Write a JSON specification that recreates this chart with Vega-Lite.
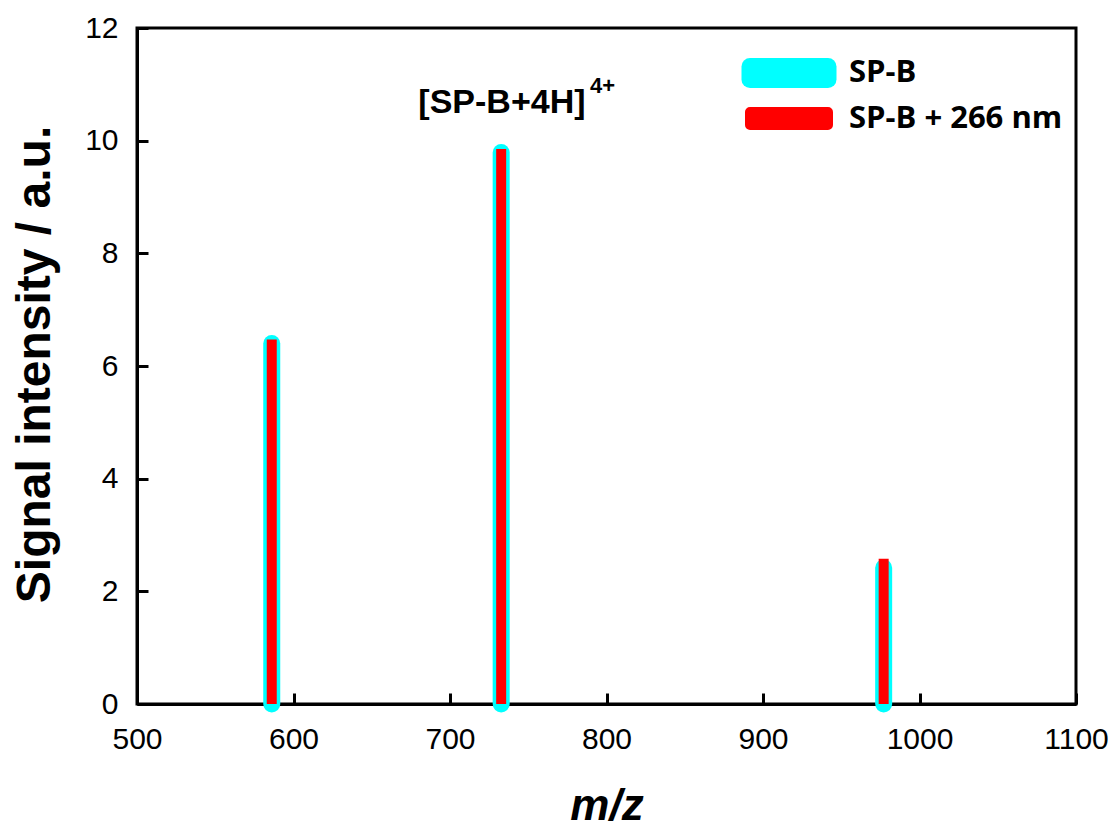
{
  "$schema": "https://vega.github.io/schema/vega-lite/v6.json",
  "width": 939,
  "height": 676,
  "autosize": {"type": "none"},
  "padding": {"left": 137, "top": 28, "right": 40, "bottom": 124},
  "background": "white",
  "config": {
    "view": {"stroke": "black", "strokeWidth": 3},
    "axis": {
      "grid": false,
      "domainColor": "black",
      "domainWidth": 3,
      "tickColor": "black",
      "tickWidth": 3,
      "tickSize": -11,
      "labelFlush": false,
      "labelFont": "Liberation Sans",
      "labelFontSize": 30,
      "labelColor": "black",
      "titleFont": "Liberation Sans",
      "titleColor": "black",
      "titleFontWeight": "bold"
    }
  },
  "datasets": {
    "peaks": [
      {"mz": 586.1, "intensity": 6.40, "series": "SP-B"},
      {"mz": 732.7, "intensity": 9.79, "series": "SP-B"},
      {"mz": 977.1, "intensity": 2.42, "series": "SP-B"},
      {"mz": 586.1, "intensity": 6.47, "series": "SP-B + 266 nm"},
      {"mz": 732.7, "intensity": 9.85, "series": "SP-B + 266 nm"},
      {"mz": 977.1, "intensity": 2.58, "series": "SP-B + 266 nm"}
    ],
    "labels": [
      {"mz": 733.2, "intensity": 10.5, "text": "[SP-B+4H]", "kind": "main"},
      {"mz": 789.5, "intensity": 10.85, "text": "4+", "kind": "sup"}
    ]
  },
  "layer": [
    {
      "data": {"name": "peaks"},
      "transform": [{"filter": "datum.series === 'SP-B'"}],
      "mark": {"type": "rule", "strokeCap": "round"},
      "encoding": {
        "x": {
          "field": "mz", "type": "quantitative",
          "scale": {"domain": [500, 1100], "nice": false, "zero": false},
          "axis": {
            "values": [500, 600, 700, 800, 900, 1000, 1100],
            "format": "d",
            "labelPadding": 31,
            "title": "m/z",
            "titleFontSize": 44,
            "titleFontStyle": "italic",
            "titleX": 469.5,
            "titleY": 115,
            "titleAlign": "center",
            "titleBaseline": "alphabetic"
          }
        },
        "y": {
          "field": "intensity", "type": "quantitative",
          "scale": {"domain": [0, 12], "nice": false},
          "axis": {
            "values": [0, 2, 4, 6, 8, 10, 12],
            "format": "d",
            "labelPadding": 30,
            "title": "Signal intensity / a.u.",
            "titleFontSize": 48,
            "titleAngle": -90,
            "titleX": -102,
            "titleY": 336,
            "titleAlign": "center",
            "titleBaseline": "middle"
          }
        },
        "y2": {"datum": 0},
        "color": {
          "field": "series", "type": "nominal",
          "scale": {"domain": ["SP-B", "SP-B + 266 nm"], "range": ["#00FFFF", "#FF0000"]},
          "legend": {
            "title": null,
            "orient": "none",
            "legendX": 624,
            "legendY": 17,
            "symbolType": "M-2,-0.33H2V0.33H-2Z",
            "symbolSize": 1521,
            "labelFont": "Open Sans",
            "labelFontWeight": "bold",
            "labelFontSize": 31,
            "labelLimit": 500,
            "labelColor": "black",
            "labelOffset": 32,
            "rowPadding": 6,
            "padding": 0,
            "encode": {
              "symbols": {"update": {"fill": {"scale": "color", "field": "value"}, "strokeJoin": {"value": "round"}, "fillOpacity": {"value": 1}}}
            }
          }
        },
        "strokeWidth": {
          "field": "series", "type": "nominal",
          "scale": {"domain": ["SP-B", "SP-B + 266 nm"], "range": [17, 10]},
          "legend": {
            "title": null,
            "orient": "none",
            "legendX": 624,
            "legendY": 17,
            "symbolType": "M-2,-0.33H2V0.33H-2Z",
            "symbolSize": 1521,
            "labelFont": "Open Sans",
            "labelFontWeight": "bold",
            "labelFontSize": 31,
            "labelLimit": 500,
            "labelColor": "black",
            "labelOffset": 32,
            "rowPadding": 6,
            "padding": 0
          }
        }
      }
    },
    {
      "data": {"name": "peaks"},
      "transform": [{"filter": "datum.series === 'SP-B + 266 nm'"}],
      "mark": {"type": "rule", "strokeCap": "butt"},
      "encoding": {
        "x": {"field": "mz", "type": "quantitative"},
        "y": {"field": "intensity", "type": "quantitative"},
        "y2": {"datum": 0},
        "color": {"field": "series", "type": "nominal"},
        "strokeWidth": {"field": "series", "type": "nominal"}
      }
    },
    {
      "data": {"name": "labels"},
      "transform": [{"filter": "datum.kind === 'main'"}],
      "mark": {"type": "text", "font": "Liberation Sans", "fontWeight": "bold", "fontSize": 34, "align": "center", "baseline": "alphabetic", "color": "black"},
      "encoding": {
        "x": {"field": "mz", "type": "quantitative"},
        "y": {"field": "intensity", "type": "quantitative"},
        "text": {"field": "text"}
      }
    },
    {
      "data": {"name": "labels"},
      "transform": [{"filter": "datum.kind === 'sup'"}],
      "mark": {"type": "text", "font": "Liberation Sans", "fontWeight": "bold", "fontSize": 22, "align": "left", "baseline": "alphabetic", "color": "black"},
      "encoding": {
        "x": {"field": "mz", "type": "quantitative"},
        "y": {"field": "intensity", "type": "quantitative"},
        "text": {"field": "text"}
      }
    }
  ]
}
